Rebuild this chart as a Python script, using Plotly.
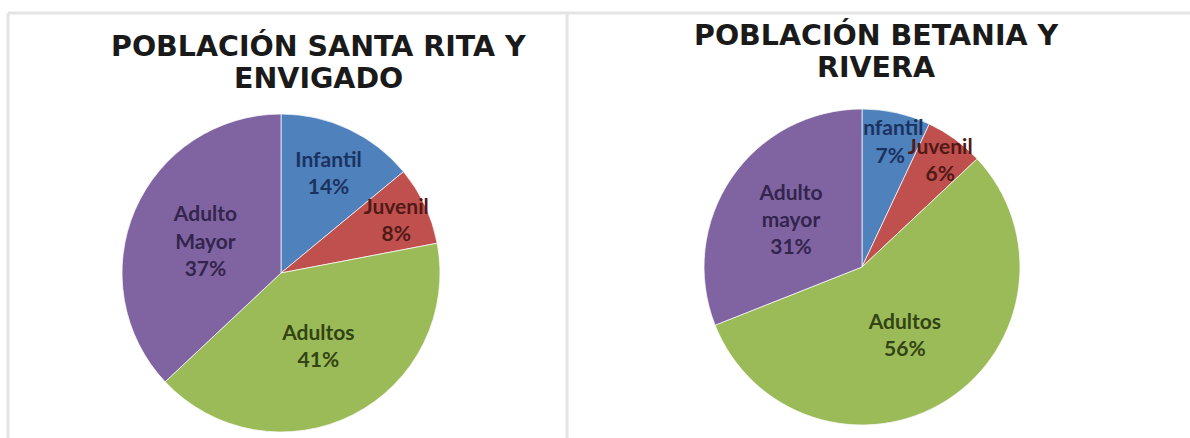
import plotly.graph_objects as go

# ---- data ----
labels_left = ["Infantil", "Juvenil", "Adultos", "Adulto<br>Mayor"]
values_left = [14, 8, 41, 37]
labels_right = ["Infantil", "Juvenil", "Adultos", "Adulto<br>mayor"]
values_right = [7, 6, 56, 31]
title_left = ["POBLACIÓN SANTA RITA Y", "ENVIGADO"]
title_right = ["POBLACIÓN BETANIA Y", "RIVERA"]

slice_colors = ["#4F81BD", "#C0504D", "#9BBB59", "#8064A2"]
text_colors = ["#1B3260", "#501a18", "#334414", "#33254d"]

W, H = 1190, 438

def px_dom(cx, cy, r):
    return dict(x=[(cx - r) / W, (cx + r) / W],
                y=[(H - cy - r) / H, (H - cy + r) / H])

fig = go.Figure()
for labels, values, dom in [
    (labels_left, values_left, px_dom(281, 273, 159)),
    (labels_right, values_right, px_dom(862, 267, 158)),
]:
    fig.add_trace(go.Pie(
        labels=labels, values=values, sort=False, direction="clockwise",
        rotation=0, domain=dom,
        marker=dict(colors=slice_colors, line=dict(color="rgba(255,255,255,0.7)", width=1)),
        texttemplate="%{label}<br>%{value}%",
        textposition="inside", insidetextorientation="horizontal",
        textfont=dict(family="Lato", size=21, color=text_colors, weight="bold"),
        showlegend=False, hoverinfo="label+percent",
    ))

def add_title(lines, cx, cys):
    for txt, cy in zip(lines, cys):
        fig.add_annotation(text=txt, x=cx / W, y=1 - cy / H, xref="paper", yref="paper",
                           xanchor="center", yanchor="middle", showarrow=False,
                           font=dict(family="DejaVu Sans", size=28.5, color="#1a1a1a", weight="bold"))

add_title(title_left, 318.5, [46, 78])
add_title(title_right, 875.5, [35, 67.5])

line_col = "#e4e4e4"
shapes = [
    dict(type="line", xref="paper", yref="paper", x0=8 / W, x1=1, y0=1 - 13 / H, y1=1 - 13 / H,
         line=dict(color=line_col, width=3)),
    dict(type="line", xref="paper", yref="paper", x0=8 / W, x1=8 / W, y0=0, y1=1 - 13 / H,
         line=dict(color=line_col, width=3)),
    dict(type="line", xref="paper", yref="paper", x0=567 / W, x1=567 / W, y0=0, y1=1 - 13 / H,
         line=dict(color=line_col, width=3)),
]

fig.update_layout(
    width=W, height=H, margin=dict(l=0, r=0, t=0, b=0),
    paper_bgcolor="white", plot_bgcolor="white",
    uniformtext=dict(minsize=21, mode="show"),
    shapes=shapes,
)

fig.write_html("out.html", config={"displayModeBar": False},
               post_script="document.body.style.margin='0';document.body.style.overflow='hidden';")
